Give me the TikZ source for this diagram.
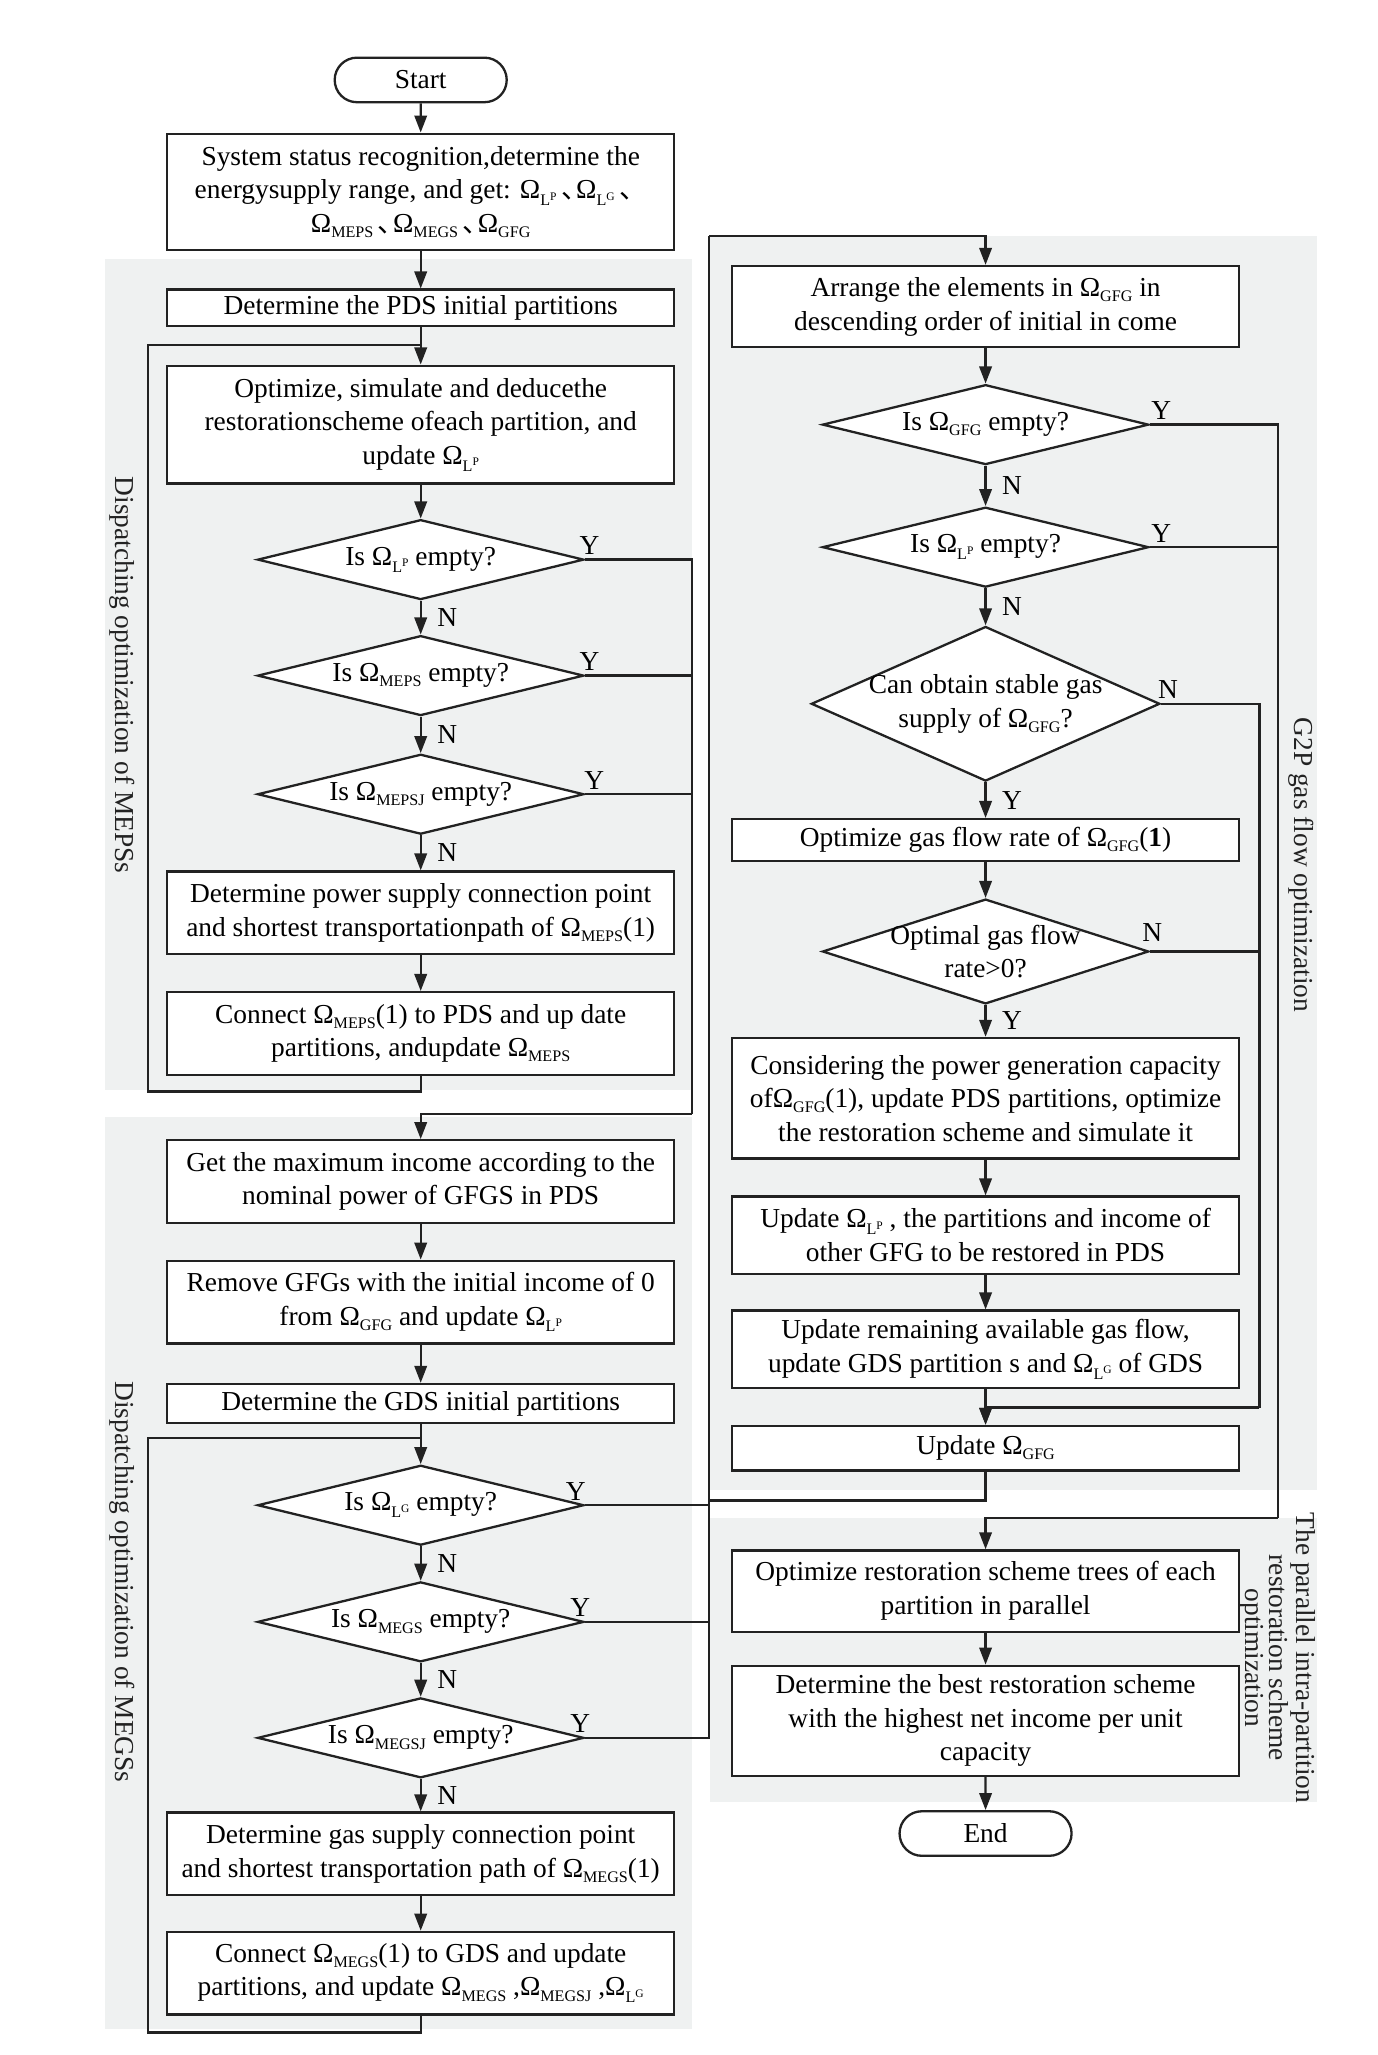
\documentclass[tikz,border=0pt]{standalone}
\usepackage{fontspec}
\setmainfont{Liberation Serif}
\newfontfamily\cjk{Noto Sans CJK SC}
\usetikzlibrary{arrows.meta,positioning,calc,shapes.geometric,shapes.misc}
\definecolor{panelgray}{HTML}{EFF1F1}
\definecolor{inkline}{HTML}{222222}
% Omega with subscript, and with L^x subscript
\newcommand{\om}[1]{Ω\raisebox{-0.4ex}{\fontsize{7}{7}\selectfont #1}}
\newcommand{\omL}[1]{Ω\raisebox{-0.55ex}{\fontsize{7}{7}\selectfont L\raisebox{0.75ex}{\fontsize{5}{5}\selectfont #1}}}
\newcommand{\dun}{\,{\cjk 、}\hspace{-0.45em}}
\tikzset{
  >={Triangle[length=2.6mm,width=1.9mm]},
  txt/.style={font=\fontsize{11.9}{14.6}\selectfont},
  proc/.style={rectangle,draw=inkline,line width=1pt,fill=white,align=center,
    minimum width=7.74cm,inner sep=2pt,txt},
  dec/.style={diamond,draw=inkline,line width=1pt,fill=white,align=center,
    minimum width=4.98cm,minimum height=1.22cm,aspect=4.1,inner sep=0pt,txt},
  term/.style={rounded rectangle,draw=inkline,line width=1pt,fill=white,
    minimum width=2.86cm,minimum height=0.68cm,txt},
  arr/.style={->,draw=inkline,line width=1pt},
  ln/.style={draw=inkline,line width=1pt},
  yn/.style={txt,inner sep=1pt},
  panel/.style={fill=panelgray,draw=none},
  side/.style={txt,rotate=-90,text=inkline},
}
\begin{document}
\begin{tikzpicture}[x=0.02cm,y=-0.02cm]
  \useasboundingbox (0,0) rectangle (1051,1568);
  % panels
  \fill[panel] (80,198) rectangle (528,832);
  \fill[panel] (80,852) rectangle (528,1548);
  \fill[panel] (542,180) rectangle (1005,1137);
  \fill[panel] (542,1158) rectangle (1005,1375);
  \node[side] (sideA) at (93,515) {Dispatching optimization of MEPSs};
  \node[side] (sideB) at (93,1207) {Dispatching optimization of MEGSs};
  \node[side] (sideC) at (993,660) {G2P gas flow optimization};
  \node[side,align=center,font=\fontsize{11.9}{10.5}\selectfont] (sideD) at (975,1265)
    {The parallel intra-partition\\restoration scheme\\optimization};

  % left column
  \node[term] (start) at (321,61) {Start};
  \node[proc,minimum height=1.78cm] (b1) at (321,146.5)
    {System status recognition,determine the\\energysupply range, and get: \omL{P}\dun\omL{G}\dun\\\om{MEPS}\dun\om{MEGS}\dun\om{GFG}};
  \node[proc,minimum height=0.56cm] (b2) at (321,235) {Determine the PDS initial partitions};
  \node[proc,minimum height=1.8cm] (b3) at (321,324)
    {Optimize, simulate and deducethe\\restorationscheme ofeach partition, and\\update \omL{P}};
  \node[dec] (d1) at (321,427) {Is \omL{P} empty?};
  \node[dec] (d2) at (321,515.5) {Is \om{MEPS} empty?};
  \node[dec] (d3) at (321,606) {Is \om{MEPSJ} empty?};
  \node[proc,minimum height=1.26cm] (b4) at (321,696.5)
    {Determine power supply connection point\\and shortest transportationpath of \om{MEPS}(1)};
  \node[proc,minimum height=1.26cm] (b5) at (321,788.5)
    {Connect \om{MEPS}(1) to PDS and up date\\partitions, andupdate \om{MEPS}};
  \node[proc,minimum height=1.26cm] (b6) at (321,901.5)
    {Get the maximum income according to the\\nominal power of GFGS in PDS};
  \node[proc,minimum height=1.26cm] (b7) at (321,993.5)
    {Remove GFGs with the initial income of 0\\from \om{GFG} and update \omL{P}};
  \node[proc,minimum height=0.6cm] (b8) at (321,1071) {Determine the GDS initial partitions};
  \node[dec] (d4) at (321,1148.5) {Is \omL{G} empty?};
  \node[dec] (d5) at (321,1237.5) {Is \om{MEGS} empty?};
  \node[dec] (d6) at (321,1326) {Is \om{MEGSJ} empty?};
  \node[proc,minimum height=1.26cm] (b9) at (321,1414.5)
    {Determine gas supply connection point\\and shortest transportation path of \om{MEGS}(1)};
  \node[proc,minimum height=1.26cm] (b10) at (321,1505.5)
    {Connect \om{MEGS}(1) to GDS and update\\partitions, and update \om{MEGS} ,\om{MEGSJ} ,\omL{G}};

  % right column
  \node[proc,minimum height=1.24cm] (b11) at (752,234)
    {Arrange the elements in \om{GFG} in\\descending order of initial in come};
  \node[dec] (d7) at (752,324) {Is \om{GFG} empty?};
  \node[dec] (d8) at (752,417.5) {Is \omL{P} empty?};
  \node[dec,minimum width=5.32cm,minimum height=2.36cm,aspect=2.25,inner xsep=-0.25cm] (d9) at (752,537)
    {Can obtain stable gas\\supply of \om{GFG}?};
  \node[proc,minimum height=0.64cm] (b12) at (752,641) {Optimize gas flow rate of \om{GFG}(\textbf{1})};
  \node[dec,minimum width=4.98cm,minimum height=1.6cm,aspect=3.1,inner xsep=-0.25cm,inner ysep=-0.1cm] (d10) at (752,726)
    {Optimal gas flow\\rate>0?};
  \node[proc,minimum height=1.84cm] (b13) at (752,838)
    {Considering the power generation capacity\\of\om{GFG}(1), update PDS partitions, optimize\\the restoration scheme and simulate it};
  \node[proc,minimum height=1.18cm] (b14) at (752,942.5)
    {Update \omL{P} , the partitions and income of\\other GFG to be restored in PDS};
  \node[proc,minimum height=1.18cm] (b15) at (752,1029.5)
    {Update remaining available gas flow,\\update GDS partition s and \omL{G} of GDS};
  \node[proc,minimum height=0.68cm] (b16) at (752,1105) {Update \om{GFG}};
  \node[proc,minimum height=1.24cm] (b17) at (752,1214)
    {Optimize restoration scheme trees of each\\partition in parallel};
  \node[proc,minimum height=1.68cm] (b18) at (752,1313)
    {Determine the best restoration scheme\\with the highest net income per unit\\capacity};
  \node[term] (end) at (752,1399) {End};

  % bends
  \coordinate (lpA) at (113,263);
  \coordinate (lpB) at (113,1097);
  \coordinate (rtA) at (528,850);
  \coordinate (rtB) at (541,180);
  \coordinate (lpC) at (541,1145);
  \coordinate (rtC) at (961,1074);
  \coordinate (rtD) at (975,1158);

  % left flow
  \draw[arr] (start) -- (b1);
  \draw[arr] (b1) -- (b2);
  \draw[arr] (b2) -- (b3);
  \draw[arr] (b3) -- (d1);
  \draw[arr] (d1) -- node[yn,right=2mm] (n1) {N} (d2);
  \draw[arr] (d2) -- node[yn,right=2mm] (n2) {N} (d3);
  \draw[arr] (d3) -- node[yn,right=2mm] (n3) {N} (b4);
  \draw[arr] (b4) -- (b5);
  \draw[ln] (b5.south) -- ++(0,12) -| (lpA) -- (lpA -| b3.north);
  \draw[ln] (d1.east) -- (d1.east -| rtA) -- (rtA);
  \draw[ln] (d2.east) -- (d2.east -| rtA);
  \draw[ln] (d3.east) -- (d3.east -| rtA);
  \draw[arr] (rtA) -| (b6.north);
  \node[yn,anchor=south] (y1) at ([xshift=2pt,yshift=1pt]d1.east) {Y};
  \node[yn,anchor=south] (y2) at ([xshift=2pt,yshift=1pt]d2.east) {Y};
  \node[yn,anchor=south] (y3) at ([xshift=4pt,yshift=1pt]d3.east) {Y};

  \draw[arr] (b6) -- (b7);
  \draw[arr] (b7) -- (b8);
  \draw[arr] (b8) -- (d4);
  \draw[arr] (d4) -- node[yn,right=2mm] (n4) {N} (d5);
  \draw[arr] (d5) -- node[yn,right=2mm] (n5) {N} (d6);
  \draw[arr] (d6) -- node[yn,right=2mm] (n6) {N} (b9);
  \draw[arr] (b9) -- (b10);
  \draw[ln] (b10.south) -- ++(0,13) -| (lpB) -- (lpB -| d4.north);
  \draw[ln] (d6.east) -- (d6.east -| rtB) -- (rtB);
  \draw[ln] (d4.east) -- (d4.east -| rtB);
  \draw[ln] (d5.east) -- (d5.east -| rtB);
  \draw[arr] (rtB) -| (b11.north);
  \node[yn,anchor=south] (y4) at ([xshift=-4pt,yshift=1pt]d4.east) {Y};
  \node[yn,anchor=south] (y5) at ([xshift=-2pt,yshift=1pt]d5.east) {Y};
  \node[yn,anchor=south] (y6) at ([xshift=-2pt,yshift=1pt]d6.east) {Y};

  % right flow
  \draw[arr] (b11) -- (d7);
  \draw[arr] (d7) -- node[yn,right=2mm] (n7) {N} (d8);
  \draw[arr] (d8) -- node[yn,right=2mm] (n8) {N} (d9);
  \draw[arr] (d9) -- node[yn,right=2mm] (y9) {Y} (b12);
  \draw[arr] (b12) -- (d10);
  \draw[arr] (d10) -- node[yn,right=2mm] (y10) {Y} (b13);
  \draw[arr] (b13) -- (b14);
  \draw[arr] (b14) -- (b15);
  \draw[arr] (b15) -- (b16);
  \draw[ln] (b16.south) |- (lpC);
  \draw[ln] (d7.east) -- (d7.east -| rtD) -- (rtD);
  \draw[ln] (d8.east) -- (d8.east -| rtD);
  \draw[arr] (rtD) -| (b17.north);
  \node[yn,anchor=south] (y7) at ([xshift=5pt,yshift=1pt]d7.east) {Y};
  \node[yn,anchor=south] (y8) at ([xshift=5pt,yshift=1pt]d8.east) {Y};
  \draw[ln] (d9.east) -- (d9.east -| rtC) -- (rtC);
  \draw[ln] (d10.east) -- (d10.east -| rtC);
  \draw[arr] (rtC) -| (b16.north);
  \node[yn,anchor=south] (n9) at ([xshift=3pt,yshift=1pt]d9.east) {N};
  \node[yn,anchor=south] (n10) at ([xshift=1pt,yshift=3pt]d10.east) {N};
  \draw[arr] (b17) -- (b18);
  \draw[arr] (b18) -- (end);
\end{tikzpicture}
\end{document}
